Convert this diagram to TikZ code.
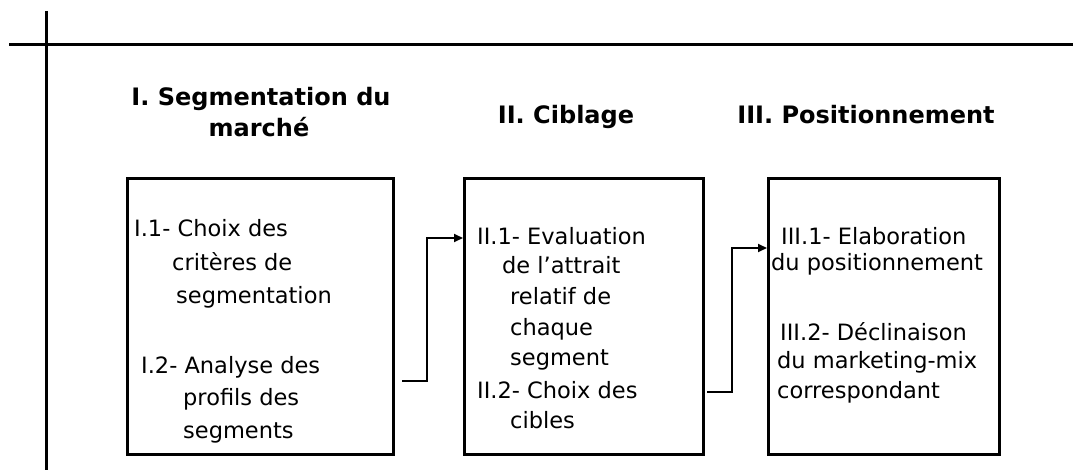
\documentclass[tikz,border=0pt]{standalone}
\usepackage{fontspec}
\setmainfont{DejaVu Sans}
\usetikzlibrary{arrows.meta}
\begin{document}
\begin{tikzpicture}[x=1pt,y=-1pt,
  frameline/.style={line width=3pt},
  stage/.style={draw, line width=2.6pt, anchor=north west, inner sep=0pt},
  head/.style={font=\fontsize{24}{29}\selectfont\bfseries, anchor=base, inner sep=0pt},
  txt/.style={font=\fontsize{22.5}{27}\selectfont, anchor=base west, inner sep=0pt},
  conn/.style={line width=2pt, -{Triangle[length=9pt,width=8pt]}}]
\useasboundingbox (0,0) rectangle (1073,470);
% frame lines
\coordinate (vt) at (46,11);
\coordinate (vb) at (46,470);
\coordinate (hl) at (9,45);
\coordinate (hr) at (1073,45);
\draw[frameline] (vt) -- (vb);
\draw[frameline] (hl) -- (hr);
% headings
\node[head] (h1a) at (261,106) {I. Segmentation du};
\node[head] (h1b) at (259,137) {marché};
\node[head] (h2) at (566,124) {II. Ciblage};
\node[head] (h3) at (866,124) {III. Positionnement};
% boxes
\node[stage, minimum width=266pt, minimum height=276pt] (b1) at (126,177) {};
\node[stage, minimum width=239pt, minimum height=276pt] (b2) at (463,177) {};
\node[stage, minimum width=231pt, minimum height=276pt] (b3) at (767,177) {};
% box 1 text
\node[txt] (t1a) at (134,237) {I.1- Choix des};
\node[txt] (t1b) at (172,270) {critères de};
\node[txt] (t1c) at (176,303) {segmentation};
\node[txt] (t1d) at (141,373) {I.2- Analyse des};
\node[txt] (t1e) at (183,405) {profils des};
\node[txt] (t1f) at (183,438) {segments};
% box 2 text
\node[txt] (t2a) at (477,245) {II.1- Evaluation};
\node[txt] (t2b) at (502,273) {de l’attrait};
\node[txt] (t2c) at (510,305) {relatif de};
\node[txt] (t2d) at (510,335) {chaque};
\node[txt] (t2e) at (510,365) {segment};
\node[txt] (t2f) at (477,398) {II.2- Choix des};
\node[txt] (t2g) at (510,428) {cibles};
% box 3 text
\node[txt] (t3a) at (781,245) {III.1- Elaboration};
\node[txt] (t3b) at (771,271) {du positionnement};
\node[txt] (t3c) at (780,340) {III.2- Déclinaison};
\node[txt] (t3d) at (777,368) {du marketing-mix};
\node[txt] (t3e) at (777,398) {correspondant};
% connectors
\coordinate (a1s) at (402,381);
\coordinate (a1e) at (b2.west |- 0,238);
\coordinate (a2s) at (707,392);
\coordinate (a2e) at (b3.west |- 0,248);
\draw[conn] (a1s) -- ++(25,0) |- (a1e);
\draw[conn] (a2s) -- ++(25,0) |- (a2e);
\end{tikzpicture}
\end{document}
